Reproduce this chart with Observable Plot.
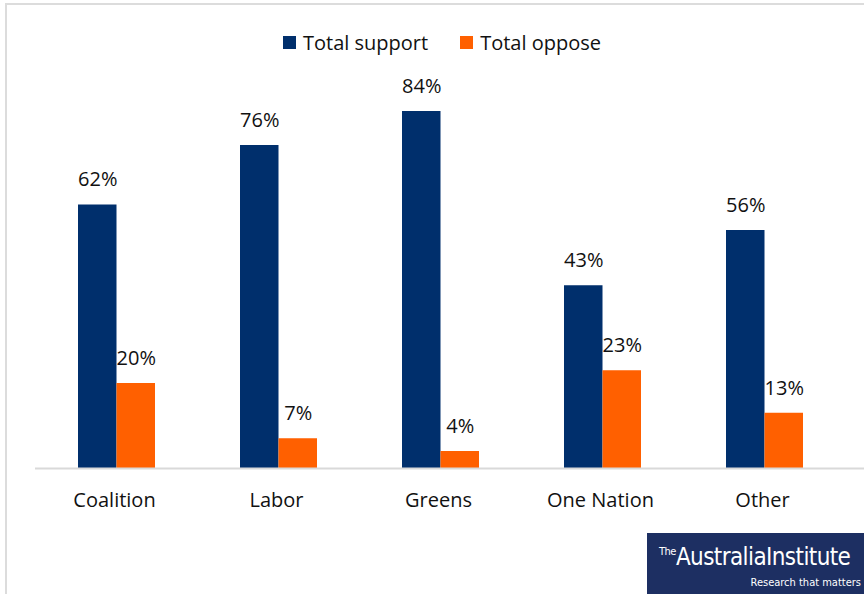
<!DOCTYPE html>
<html>
<head>
<meta charset="utf-8">
<script src="https://cdn.jsdelivr.net/npm/d3@7"></script>
<script src="https://cdn.jsdelivr.net/npm/@observablehq/plot@0.6"></script>
<style>
  html, body { margin: 0; padding: 0; background: #fff; }
  #wrap { position: relative; width: 864px; height: 594px; overflow: hidden; font-family: "Open Sans", sans-serif; }
  #border { position: absolute; left: 5px; top: 3px; right: -10px; bottom: -10px; border-left: 2px solid #dcdcdc; border-top: 2px solid #dcdcdc; }
  #legend { position: absolute; left: 283px; top: 29px; display: flex; align-items: center; font-size: 20px; color: #111; }
  #legend .item { display: flex; align-items: center; margin-right: 32px; }
  #legend .sw { width: 13px; height: 13px; margin-right: 7px; }
  #chart { position: absolute; left: 0; top: 0; }
  #logo { position: absolute; left: 647px; top: 533px; width: 217px; height: 61px; background: #1d2f62; color: #fff; font-family: "Liberation Sans Narrow", "DejaVu Sans Condensed", sans-serif; }
  #logo .main { position: absolute; left: 12px; top: 10px; font-size: 24px; letter-spacing: -0.6px; white-space: nowrap; }
  #logo .main sup { font-size: 11px; vertical-align: 10px; letter-spacing: -0.5px; }
  #logo .tag { position: absolute; right: 3px; top: 43px; font-size: 11px; white-space: nowrap; }
</style>
</head>
<body>
<div id="wrap">
  <div id="border"></div>
  <div id="chart"></div>
  <div id="legend"></div>
  <div id="logo"><div class="main"><sup>The</sup>AustraliaInstitute</div><div class="tag">Research that matters</div></div>
</div>
<script>
const parties = ["Coalition", "Labor", "Greens", "One Nation", "Other"];
const seriesNames = ["Total support", "Total oppose"];
const support = [62, 76, 84, 43, 56];
const oppose = [20, 7, 4, 23, 13];
const colors = ["#002f6c", "#ff6000"];

const supportData = parties.map((p, i) => ({party: p, series: seriesNames[0], value: support[i]}));
const opposeData = parties.map((p, i) => ({party: p, series: seriesNames[1], value: oppose[i]}));

const half = 38.5;

const chart = Plot.plot({
  width: 864,
  height: 594,
  marginLeft: 35,
  marginRight: 0,
  marginTop: 43,
  marginBottom: 126,
  style: {fontFamily: "Open Sans, sans-serif", background: "transparent", color: "#111"},
  x: {domain: parties, range: [34, 846], paddingInner: 0.526, paddingOuter: 0.263, label: null},
  y: {domain: [0, 100], axis: null},
  color: {domain: seriesNames, range: colors},
  marks: [
    Plot.barY(supportData, {x: "party", y: "value", fill: "series", insetRight: half}),
    Plot.barY(opposeData, {x: "party", y: "value", fill: "series", insetLeft: half}),
    Plot.text(supportData, {x: "party", y: "value", text: d => d.value + "%", dx: -half / 2, dy: -25, fontSize: 20, fill: "#111"}),
    Plot.text(opposeData, {x: "party", y: "value", text: d => d.value + "%", dx: half / 2, dy: -25, fontSize: 20, fill: "#111"}),
    Plot.ruleY([0], {stroke: "#d9d9d9", strokeWidth: 2}),
    Plot.axisX({tickSize: 0, tickPadding: 24, dx: -2.5, fontSize: 20, label: null, fill: "#111"})
  ]
});
document.getElementById("chart").appendChild(chart);

const legend = document.getElementById("legend");
seriesNames.forEach((s, i) => {
  const item = document.createElement("div");
  item.className = "item";
  const sw = document.createElement("div");
  sw.className = "sw";
  sw.style.background = colors[i];
  const label = document.createElement("span");
  label.textContent = s;
  item.appendChild(sw);
  item.appendChild(label);
  legend.appendChild(item);
});
</script>
</body>
</html>
